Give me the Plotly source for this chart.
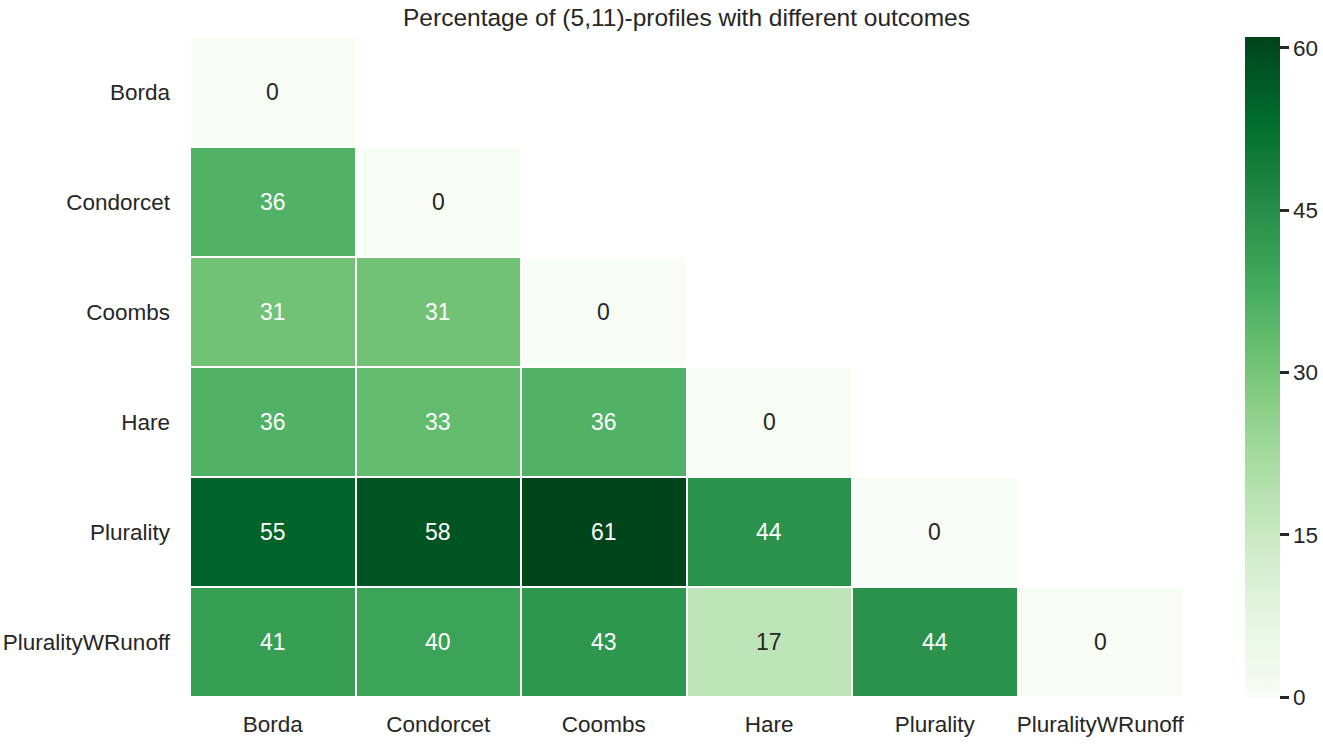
import numpy as np
import plotly.graph_objects as go

methods = ["Borda", "Condorcet", "Coombs", "Hare", "Plurality", "PluralityWRunoff"]

# Lower-triangular matrix of disagreement percentages (row method vs column method)
row_borda = [0]
row_condorcet = [36, 0]
row_coombs = [31, 31, 0]
row_hare = [36, 33, 36, 0]
row_plurality = [55, 58, 61, 44, 0]
row_pwr = [41, 40, 43, 17, 44, 0]

rows = [row_borda, row_condorcet, row_coombs, row_hare, row_plurality, row_pwr]
n = len(methods)
z = [[r[j] if j < len(r) else None for j in range(n)] for r in rows]

greens = [
    [0.0, "#f7fcf5"], [0.125, "#e5f5e0"], [0.25, "#c7e9c0"], [0.375, "#a1d99b"],
    [0.5, "#74c476"], [0.625, "#41ab5d"], [0.75, "#238b45"], [0.875, "#006d2c"],
    [1.0, "#00441b"],
]

zmax = max(max(r) for r in rows)
font = "Liberation Sans, Arial, sans-serif"
dark = "#262626"

fig = go.Figure(go.Heatmap(
    z=z, x=methods, y=methods,
    colorscale=greens, zmin=0, zmax=zmax,
    xgap=2, ygap=2, hoverongaps=False,
    colorbar=dict(
        x=1.0624, xanchor="left", xpad=0, y=0.5, yanchor="middle",
        len=1.0, lenmode="fraction", ypad=0,
        thickness=35, outlinewidth=0,
        tickmode="array", tickvals=[0, 15, 30, 45, 60],
        ticks="outside", ticklen=9, tickwidth=2.5, tickcolor=dark,
        tickfont=dict(family=font, size=22.5, color=dark),
    ),
))

annotations = []
for i, r in enumerate(rows):
    for j, v in enumerate(r):
        annotations.append(dict(
            x=methods[j], y=methods[i], text=f"{v:.0f}", showarrow=False,
            font=dict(family=font, size=23, color="white" if v > 25 else dark),
        ))

fig.update_layout(
    width=1323, height=745,
    margin=dict(l=190, r=140, t=37, b=48, autoexpand=False),
    paper_bgcolor="white", plot_bgcolor="white",
    annotations=annotations,
    title=dict(
        text="Percentage of (5,11)-profiles with different outcomes",
        x=(190 + 1183) / 2 / 1323, xanchor="center", y=0.976, yanchor="middle",
        font=dict(family=font, size=24.5, color=dark),
    ),
    xaxis=dict(showgrid=False, zeroline=False, ticks="", ticklen=0,
               ticklabelstandoff=11, automargin=False,
               tickfont=dict(family=font, size=22.5, color=dark)),
    yaxis=dict(showgrid=False, zeroline=False, autorange="reversed", ticks="",
               ticklen=0, ticklabelstandoff=19, automargin=False,
               tickfont=dict(family=font, size=22.5, color=dark)),
)

fig.write_html("out.html")
